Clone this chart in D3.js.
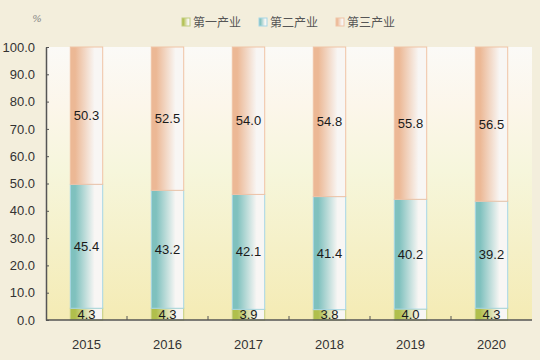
<!DOCTYPE html>
<html><head><meta charset="utf-8">
<script src="https://cdn.jsdelivr.net/npm/d3@7"></script>
<style>html,body{margin:0;padding:0;background:#f3eedc;}svg{display:block;}</style>
</head><body>
<script>
const categories = ["2015","2016","2017","2018","2019","2020"];
const primary   = [4.3, 4.3, 3.9, 3.8, 4.0, 4.3];
const secondary = [45.4, 43.2, 42.1, 41.4, 40.2, 39.2];
const tertiary  = [50.3, 52.5, 54.0, 54.8, 55.8, 56.5];
const seriesNames = ["第一产业","第二产业","第三产业"];
const yTicks = [0,10,20,30,40,50,60,70,80,90,100];

const W=540,H=360;
const m={left:46,right:8,top:47,bottom:40};
const svg=d3.select("body").append("svg").attr("width",W).attr("height",H);
svg.append("rect").attr("width",W).attr("height",H).attr("fill","#f3eedc");

const defs=svg.append("defs");
const bg=defs.append("linearGradient").attr("id","bg").attr("x1",0).attr("y1",0).attr("x2",0).attr("y2",1);
bg.append("stop").attr("offset","0%").attr("stop-color","#fbfaf7");
bg.append("stop").attr("offset","22%").attr("stop-color","#fcf6ea");
bg.append("stop").attr("offset","45%").attr("stop-color","#f6f6dc");
bg.append("stop").attr("offset","100%").attr("stop-color","#f4ebb4");

const colors=["#b0bf4c","#7fc1be","#ecb895"];
const strokes=["#c2cd7e","#a6d6e6","#f0c3a6"];
colors.forEach((c,i)=>{
  const g=defs.append("linearGradient").attr("id","g"+i).attr("x1",0).attr("y1",0).attr("x2",1).attr("y2",0);
  g.append("stop").attr("offset","0%").attr("stop-color",c);
  g.append("stop").attr("offset","15%").attr("stop-color",c);
  g.append("stop").attr("offset","75%").attr("stop-color","#f8f6f4");
  g.append("stop").attr("offset","100%").attr("stop-color","#f8f6f4");
});

const x=d3.scaleBand().domain(categories).range([m.left,W-m.right]).paddingInner(0).paddingOuter(0);
const y=d3.scaleLinear().domain([0,100]).range([H-m.bottom,m.top]);

svg.append("rect").attr("x",m.left).attr("y",m.top).attr("width",W-m.right-m.left).attr("height",H-m.bottom-m.top).attr("fill","url(#bg)");

const rows=categories.map((c,i)=>({cat:c,v:[primary[i],secondary[i],tertiary[i]]}));
const bw=x.bandwidth()*0.4;
rows.forEach(r=>{
  let acc=0;
  r.v.forEach((v,k)=>{
    const y0=acc, y1=acc+v; acc=y1;
    const bx=x(r.cat)+(x.bandwidth()-bw)/2;
    svg.append("rect").attr("x",bx).attr("y",y(y1)).attr("width",bw).attr("height",y(y0)-y(y1))
      .attr("fill","url(#g"+k+")").attr("stroke",strokes[k]).attr("stroke-width",1);
    svg.append("text").attr("x",bx+bw/2).attr("y",(y(y0)+y(y1))/2+4.5)
      .attr("text-anchor","middle").attr("font-family","Liberation Sans, Arial, sans-serif")
      .attr("font-size",13).attr("fill","#1a1a1a").text(v.toFixed(1));
  });
});

// y axis
const ya=svg.append("g").attr("transform",`translate(${m.left},0)`)
  .call(d3.axisLeft(y).tickValues(yTicks).tickSizeInner(-3).tickSizeOuter(0).tickPadding(11).tickFormat(d=>d.toFixed(1)));
ya.select(".domain").attr("stroke","#555").attr("stroke-width",1.5);
ya.selectAll(".tick line").attr("stroke","#555");
ya.selectAll("text").attr("font-family","Liberation Sans, Arial, sans-serif").attr("font-size",13).attr("fill","#333");

// x axis
const xa=svg.append("g").attr("transform",`translate(0,${H-m.bottom})`);
xa.append("line").attr("x1",m.left).attr("x2",W-m.right).attr("stroke","#555").attr("stroke-width",1.5);
categories.slice(1).forEach(c=>{
  xa.append("line").attr("x1",x(c)).attr("x2",x(c)).attr("y1",0).attr("y2",-4).attr("stroke","#555");
});
categories.forEach(c=>{
  xa.append("text").attr("x",x(c)+x.bandwidth()/2).attr("y",29).attr("text-anchor","middle")
    .attr("font-family","Liberation Sans, Arial, sans-serif").attr("font-size",13).attr("fill","#333").text(c);
});

svg.append("text").attr("x",37).attr("y",22).attr("text-anchor","middle").attr("font-family","DejaVu Serif, serif")
  .attr("font-style","italic").attr("font-size",10).attr("fill","#888").text("%");

// legend
const lx=[182,259,336];
seriesNames.forEach((n,i)=>{
  svg.append("rect").attr("x",lx[i]).attr("y",18).attr("width",8).attr("height",8)
    .attr("fill","url(#g"+i+")").attr("stroke",strokes[i]);
  svg.append("text").attr("x",lx[i]+11).attr("y",27).attr("font-family","Noto Sans CJK SC, sans-serif")
    .attr("font-size",12).attr("fill","#555").text(n);
});
</script>
</body></html>
